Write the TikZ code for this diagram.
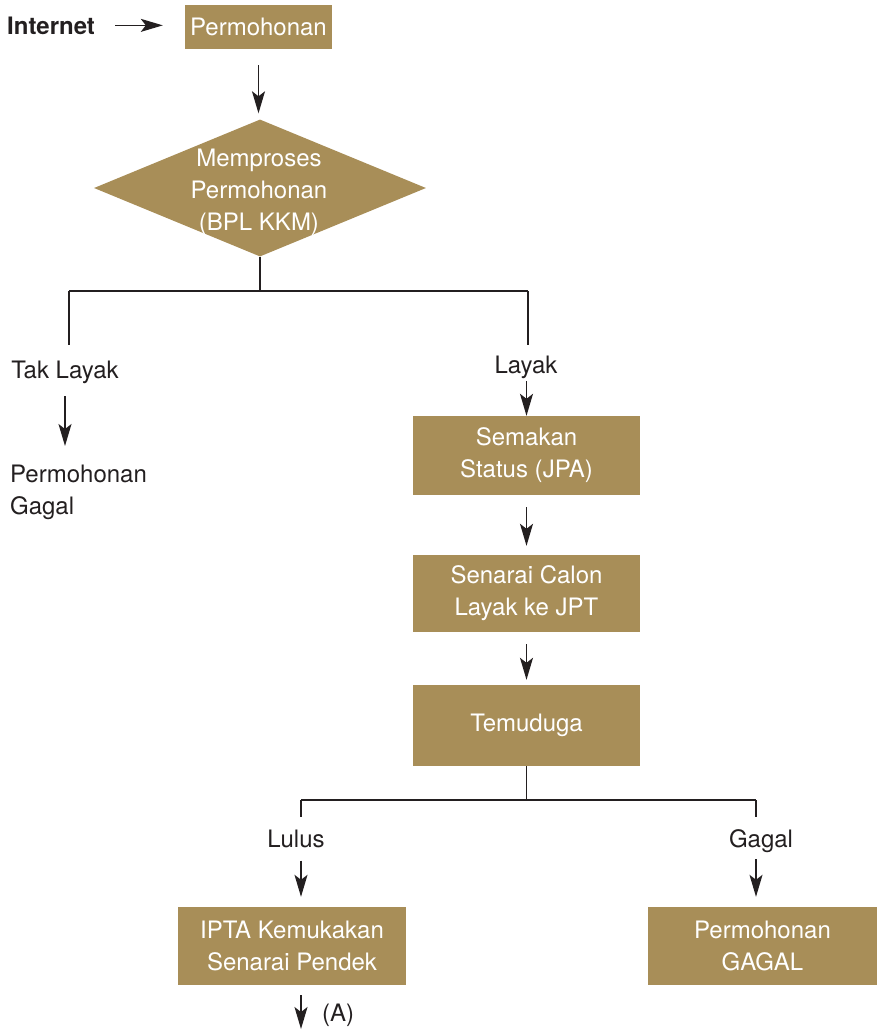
\documentclass[tikz,border=0pt]{standalone}
\usepackage{fontspec}
\setmainfont{TeX Gyre Heros}
\usetikzlibrary{arrows.meta,shapes.geometric}
\definecolor{boxc}{HTML}{A88E58}
\definecolor{ink}{HTML}{231F20}
\begin{document}
\begin{tikzpicture}[x=1pt,y=-1pt,
  box/.style={fill=boxc, text=white, align=center, inner sep=0pt, font=\fontsize{24}{32}\selectfont},
  lbl/.style={text=ink, inner sep=0pt, font=\fontsize{24}{32}\selectfont},
  arr/.style={draw=ink, line width=1.3pt, -{Stealth[length=22pt,width=13pt,inset=5pt]}},
  ln/.style={draw=ink, line width=1.2pt}]
\useasboundingbox (0,0) rectangle (877,1031);

% top
\node[lbl, font=\bfseries\fontsize{24}{32}\selectfont, anchor=base west] (inet) at (7,34) {Internet};
\node[box, minimum width=147pt, minimum height=44pt] (perm) at (258.5,27) {Permohonan};
\draw[arr, shorten <=20pt, shorten >=22pt] (inet.east) -- (inet.east -| perm.west);

% diamond
\node[diamond, fill=boxc, minimum width=332pt, minimum height=137pt, inner sep=0pt] (proc) at (260,188) {};
\node[box, fill=none] (proct) at (259,192) {Memproses\\Permohonan\\(BPL KKM)};
\draw[arr, shorten <=16pt, shorten >=6pt] (perm.south) -- (perm.south |- proc.north);

% first split
\coordinate (hl) at (69,291);
\coordinate (hr) at (528,291);
\coordinate (tl) at (69,345);
\coordinate (tr) at (528,345);
\draw[ln] (proc.south) -- (proc.south |- hl);
\draw[ln] (hl) -- (hr);
\draw[ln] (hl) -- (tl);
\draw[ln] (hr) -- (tr);

\node[lbl, anchor=base] (tak) at (65,378) {Tak Layak};
\node[lbl, anchor=base] (lay) at (526,373) {Layak};
\node[lbl, anchor=north west, align=left] (pg) at (10,465) {Permohonan\\Gagal};
\draw[arr, shorten <=13pt, shorten >=19pt] (tak.south) -- (tak.south |- pg.north);

% right column
\node[box, minimum width=227pt, minimum height=79pt] (sem) at (526.5,455.5) {Semakan\\Status (JPA)};
\node[box, minimum width=227pt, minimum height=77pt] (cal) at (526.5,593.5) {Senarai Calon\\Layak ke JPT};
\node[box, minimum width=227pt, minimum height=81pt] (tem) at (526.5,725.5) {Temuduga};
\draw[arr, shorten <=3pt] (lay.south -| sem.north) -- (sem.north);
\draw[arr, shorten <=12pt, shorten >=9pt] (sem.south) -- (cal.north);
\draw[arr, shorten <=12pt, shorten >=5pt] (cal.south) -- (tem.north);

% second split
\coordinate (ll) at (301,800);
\coordinate (lr) at (756,800);
\coordinate (bl) at (301,817);
\coordinate (br) at (756,817);
\draw[ln] (tem.south) -- (tem.south |- ll);
\draw[ln] (ll) -- (lr);
\draw[ln] (ll) -- (bl);
\draw[ln] (lr) -- (br);

\node[lbl, anchor=base] (lulus) at (296,847) {Lulus};
\node[lbl, anchor=base] (gagal) at (761,847) {Gagal};
\node[box, minimum width=228pt, minimum height=78pt] (ipta) at (292,946) {IPTA Kemukakan\\Senarai Pendek};
\node[box, minimum width=229pt, minimum height=78pt] (gg) at (762.5,946) {Permohonan\\GAGAL};
\draw[arr, shorten <=13pt, shorten >=10pt] (bl |- lulus.south) -- (bl |- ipta.north);
\draw[arr, shorten <=7pt, shorten >=10pt] (br |- gagal.south) -- (br |- gg.north);

% bottom
\coordinate (aend) at (301,1029);
\draw[arr, shorten <=10pt] (ipta.south -| aend) -- (aend);
\node[lbl, anchor=base west] (alab) at (322,1021) {(A)};
\end{tikzpicture}
\end{document}
